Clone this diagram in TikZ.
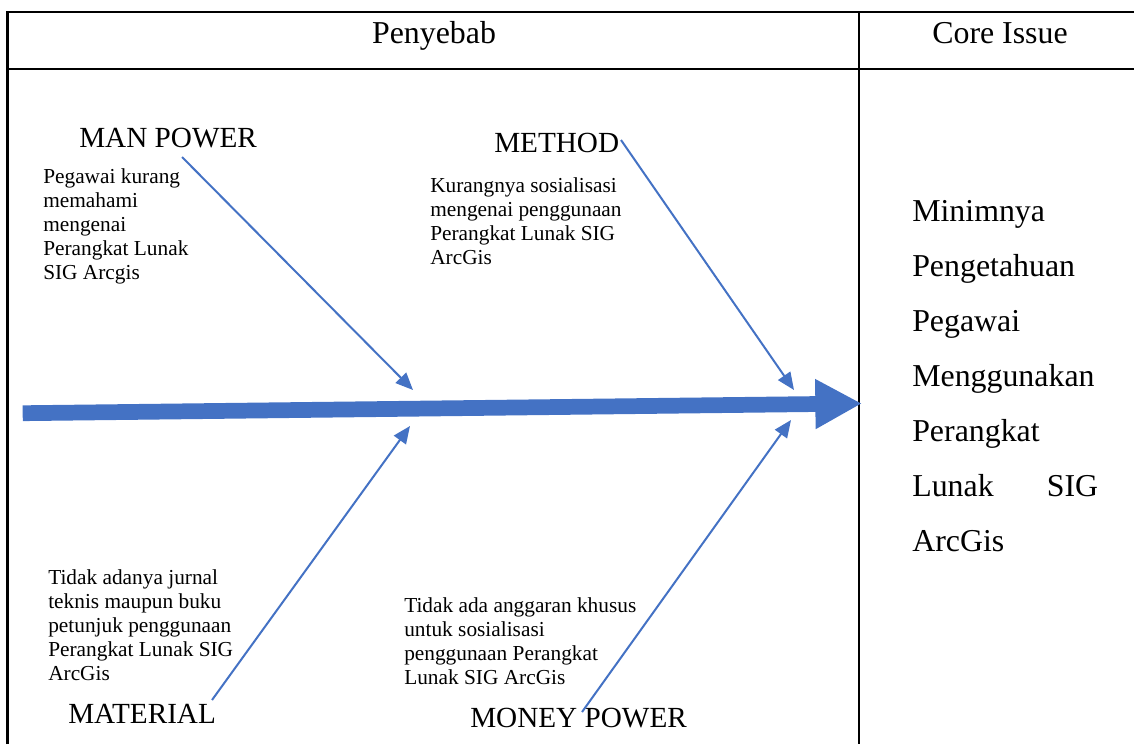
\documentclass[tikz,border=0pt]{standalone}
\usepackage{fontspec}
\setmainfont{Liberation Serif}
\usetikzlibrary{arrows.meta}
\definecolor{arrowblue}{HTML}{4472C4}
\begin{document}
\begin{tikzpicture}[x=0.75pt,y=-0.75pt,
  tableline/.style={line width=1.6pt,black},
  hdr/.style={inner sep=0pt,anchor=base,font=\fontsize{23.9}{28}\selectfont},
  cat/.style={inner sep=0pt,anchor=base west,font=\fontsize{21.9}{26}\selectfont},
  cause/.style={inner sep=0pt,anchor=base west,align=left,font=\fontsize{16}{18}\selectfont},
  core/.style={inner sep=0pt,anchor=base west,align=left,font=\fontsize{23.9}{41.25}\selectfont},
  bone/.style={draw=arrowblue,line width=1.5pt,-{Triangle[length=13pt,width=11pt]}},
  spine/.style={draw=arrowblue,line width=11.8pt,-{Triangle[length=35pt,width=35pt]}}]
\useasboundingbox (0,0) rectangle (1134,744);
% table
\draw[tableline] (7.5,744) -- (7.5,12) -- (1134,12);
\draw[tableline] (7.5,69) -- (1134,69);
\draw[tableline] (859,12) -- (859,744);
% headers
\node[hdr] (h1) at (434,43) {Penyebab};
\node[hdr] (h2) at (1000,43) {Core Issue};
% categories
\node[cat] (man) at (79,147) {MAN POWER};
\node[cat] (method) at (494,152) {METHOD};
\node[cat] (material) at (68,723) {MATERIAL};
\node[cat] (money) at (470,727) {MONEY POWER};
% causes (anchor = baseline of last line)
\node[cause] (c1) at (43,279) {Pegawai kurang\\memahami\\mengenai\\Perangkat Lunak\\SIG Arcgis};
\node[cause] (c2) at (430,264) {Kurangnya sosialisasi\\mengenai penggunaan\\Perangkat Lunak SIG\\ArcGis};
\node[cause] (c3) at (48,680) {Tidak adanya jurnal\\teknis maupun buku\\petunjuk penggunaan\\Perangkat Lunak SIG\\ArcGis};
\node[cause] (c4) at (404,684) {Tidak ada anggaran khusus\\untuk sosialisasi\\penggunaan Perangkat\\Lunak SIG ArcGis};
% core issue
\node[core] (issue) at (912,551.5) {Minimnya\\Pengetahuan\\Pegawai\\Menggunakan\\Perangkat\\\makebox[139.5pt][l]{Lunak\hfill SIG}\\ArcGis};
% bone coordinates
\coordinate (manS) at (182,157);
\coordinate (manE) at (413,390);
\coordinate (metS) at (621,140);
\coordinate (metE) at (794,390);
\coordinate (matS) at (212,700);
\coordinate (matE) at (410,426);
\coordinate (monS) at (582,712);
\coordinate (monE) at (791,420);
\coordinate (spL) at (22.7,413.2);
\coordinate (spR) at (862,403.5);
% spine
\draw[spine] (spL) -- (spR);
% bones
\draw[bone] (manS) -- (manE);
\draw[bone] (metS) -- (metE);
\draw[bone] (matS) -- (matE);
\draw[bone] (monS) -- (monE);
\end{tikzpicture}
\end{document}
